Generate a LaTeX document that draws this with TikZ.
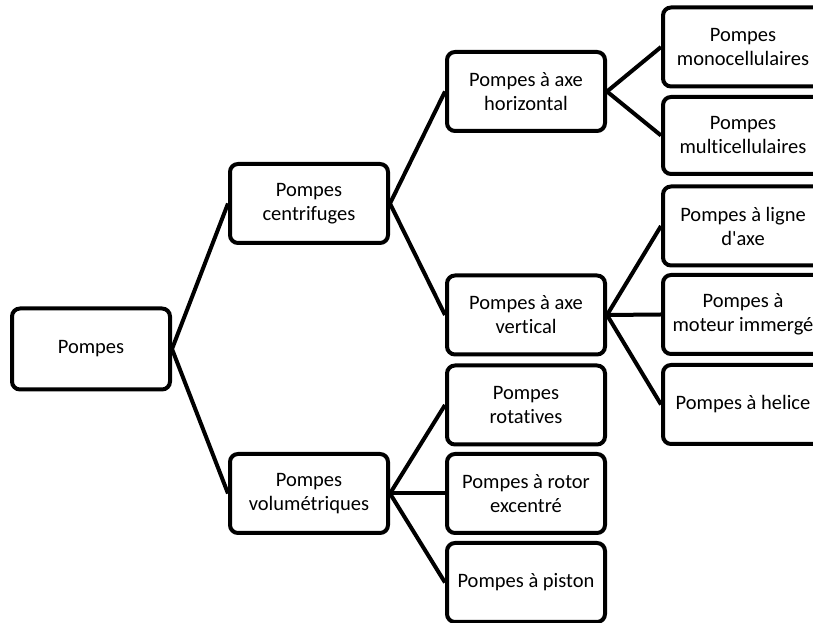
\documentclass[tikz,border=0pt]{standalone}
\usepackage{fontspec}
\newfontfamily\cfont{Carlito}[Ligatures=NoCommon]
\begin{document}
\begin{tikzpicture}[x=1pt,y=1pt,
  box/.style={draw=black,line width=4pt,rounded corners=8pt,fill=white,
    minimum width=158pt,minimum height=79pt,align=center,inner sep=1pt,
    font=\cfont\fontsize{20.5}{24}\selectfont},
  link/.style={line width=4pt}]
\clip (0,0) rectangle (813,623);
\fill[white] (0,0) rectangle (813,623);
\node[box,minimum height=81pt] (root) at (91,274) {Pompes};
\node[box] (cen) at (309,419.5) {Pompes\\centrifuges};
\node[box] (vol) at (309,129.5) {Pompes\\volumétriques};
\node[box] (hor) at (526,531.5) {Pompes à axe\\horizontal};
\node[box] (ver) at (526,308) {Pompes à axe\\vertical};
\node[box] (rot) at (526,218) {Pompes\\rotatives};
\node[box] (exc) at (526,129.5) {Pompes à rotor\\excentré};
\node[box] (pis) at (526,40.5) {Pompes à piston};
\node[box,minimum width=160pt] (mono) at (743,576) {Pompes\\monocellulaires};
\node[box,minimum width=160pt,minimum height=77pt] (multi) at (743,487.5) {Pompes\\multicellulaires};
\node[box,minimum width=160pt] (lig) at (743,397) {Pompes à ligne\\d'axe};
\node[box,minimum width=160pt] (mot) at (743,308.5) {Pompes à\\moteur immergé};
\node[box,minimum width=160pt] (hel) at (743,218.5) {Pompes à helice};
\draw[link] (root.east) -- (cen.west);
\draw[link] (root.east) -- (vol.west);
\draw[link] (cen.east) -- (hor.west);
\draw[link] (cen.east) -- (ver.west);
\draw[link] (vol.east) -- (rot.west);
\draw[link] (vol.east) -- (exc.west);
\draw[link] (vol.east) -- (pis.west);
\draw[link] (hor.east) -- (mono.west);
\draw[link] (hor.east) -- (multi.west);
\draw[link] (ver.east) -- (lig.west);
\draw[link] (ver.east) -- (mot.west);
\draw[link] (ver.east) -- (hel.west);
\end{tikzpicture}
\end{document}
